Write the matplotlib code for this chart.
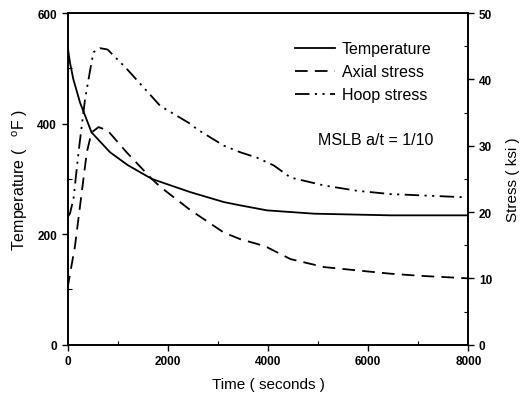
import matplotlib
matplotlib.use("Agg")
import matplotlib.pyplot as plt
from matplotlib.ticker import MultipleLocator

# Data
temp_t = [0, 50, 117, 250, 480, 850, 1200, 1680, 2000, 2450, 3120, 3450, 3980, 4920, 6450, 8000]
temp_f = [541, 510, 480, 438, 384, 348, 325, 300, 290, 276, 258, 252, 243, 237, 234, 234]

axial_t = [0, 150, 385, 480, 620, 800, 1180, 1680, 1850, 2450, 3120, 3450, 3780, 3980, 4450, 5120, 5780, 6450, 7000, 8000]
axial_k = [8.5, 14.9, 29.0, 32.0, 32.8, 32.3, 29.0, 25.0, 23.8, 20.3, 16.9, 15.9, 15.2, 14.7, 12.9, 11.7, 11.2, 10.7, 10.4, 10.0]

hoop_t = [0, 50, 120, 220, 350, 480, 520, 650, 800, 1180, 1850, 2450, 2580, 3120, 3450, 3780, 4120, 4450, 5120, 5780, 6450, 6780, 8000]
hoop_k = [19.2, 19.8, 22.0, 29.0, 37.0, 42.6, 44.1, 44.7, 44.5, 41.6, 36.0, 33.3, 32.5, 30.0, 29.0, 28.2, 27.0, 25.2, 24.0, 23.2, 22.7, 22.6, 22.2]

labels = ["Temperature", "Axial stress", "Hoop stress"]

plt.rcParams['font.family'] = ['Liberation Sans', 'DejaVu Sans']
plt.rcParams['mathtext.fontset'] = 'custom'
plt.rcParams['mathtext.rm'] = 'Liberation Sans'

fig = plt.figure(figsize=(5.29, 4.06), dpi=100)
ax = fig.add_axes([0.1276, 0.1485, 0.758, 0.817])
ax2 = ax.twinx()

lw = 1.3
l1, = ax.plot(temp_t, temp_f, color='black', lw=lw, ls='-')
l2, = ax2.plot(axial_t, axial_k, color='black', lw=lw, ls=(0, (7, 4)))
l3, = ax2.plot(hoop_t, hoop_k, color='black', lw=lw, ls=(0, (8, 3, 1.2, 3, 1.2, 3)))

ax.set_xlim(0, 8000)
ax.set_ylim(0, 600)
ax2.set_ylim(0, 50)

ax.xaxis.set_major_locator(MultipleLocator(2000))
ax.xaxis.set_minor_locator(MultipleLocator(1000))
ax.yaxis.set_major_locator(MultipleLocator(200))
ax.yaxis.set_minor_locator(MultipleLocator(100))
ax2.yaxis.set_major_locator(MultipleLocator(10))
ax2.yaxis.set_minor_locator(MultipleLocator(5))

for a in (ax, ax2):
    for s in a.spines.values():
        s.set_linewidth(1.2)
ax.tick_params(which='major', direction='out', length=4, width=1.0, labelsize=8.5)
ax.tick_params(which='minor', direction='in', length=3, width=0.8)
ax2.tick_params(which='major', direction='out', length=4, width=1.0, labelsize=8.5)
ax2.tick_params(which='minor', direction='in', length=3, width=0.8)
for lab in ax.get_xticklabels() + ax.get_yticklabels() + ax2.get_yticklabels():
    lab.set_fontweight('bold')

ax.set_xlabel("Time ( seconds )", fontsize=11, labelpad=7)
ax.set_ylabel("Temperature (   $^{\\mathrm{o}}$F )", fontsize=11.5, labelpad=5)
ax2.set_ylabel("Stress ( ksi )", fontsize=11, labelpad=10)

leg = ax.legend([l1, l2, l3], labels, loc='upper left', bbox_to_anchor=(0.567, 0.915),
                frameon=False, fontsize=11.5, handlelength=2.5, handletextpad=0.45,
                labelspacing=0.5, borderaxespad=0, borderpad=0)

ax.text(0.769, 0.62, "MSLB a/t = 1/10", transform=ax.transAxes, fontsize=11.5,
        ha='center', va='center')

fig.savefig("out.png", dpi=100)
